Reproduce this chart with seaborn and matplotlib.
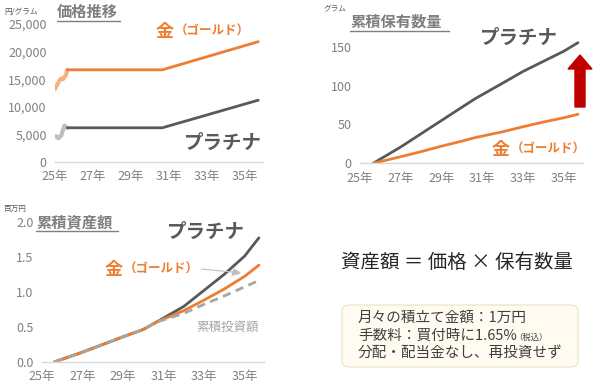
import matplotlib
matplotlib.use("Agg")
import matplotlib.pyplot as plt
import seaborn as sns
import pandas as pd
from matplotlib.patches import FancyBboxPatch, FancyArrow

sns.set_theme(style="white")
plt.rcParams['font.family'] = ['Noto Sans CJK JP', 'DejaVu Sans']

# ---- data (years as 20xx fraction, labels shown as "25年") ----
hist_x = [25.0, 25.08, 25.17, 25.25, 25.33, 25.42, 25.5, 25.58, 25.65]
gold_hist = [13200, 13800, 14300, 14900, 15100, 15000, 15400, 15800, 16700]
plat_hist = [4700, 4650, 4300, 4500, 4800, 5800, 6600, 6300, 6200]

proj_x = [25.65, 30.65, 35.7]
gold_proj = [16700, 16700, 21800]
plat_proj = [6200, 6200, 11200]

acc_x = [25.65, 27, 28, 29, 30, 30.65, 32, 33, 34, 35, 35.7]
plat_grams = [0, 21, 38, 55, 72, 83, 103, 118, 131, 144, 155]
gold_grams = [0, 8.5, 15, 22, 28.5, 33, 40.5, 47, 53, 58.5, 63]

val_x = [25.65, 27, 28, 29, 30, 30.65, 32, 33, 34, 35, 35.7]
plat_value = [0, 0.135, 0.245, 0.355, 0.46, 0.565, 0.79, 1.02, 1.25, 1.51, 1.77]
gold_value = [0, 0.135, 0.245, 0.355, 0.46, 0.565, 0.73, 0.88, 1.04, 1.22, 1.38]
invested = [0, 0.135, 0.245, 0.355, 0.46, 0.565, 0.69, 0.82, 0.94, 1.07, 1.16]

xticks = [25, 27, 29, 31, 33, 35]
xticklabels = ["25年", "27年", "29年", "31年", "33年", "35年"]

ORANGE = "#ED7D31"
ORANGE_L = "#F4B183"
GRAY_D = "#595959"
GRAY_L = "#BFBFBF"
TICK = "#808080"

W, H = 600, 390
fig = plt.figure(figsize=(6, 3.9), dpi=100)
fig.patch.set_facecolor("white")


def ax_px(left, right, bottom_px, top_px):
    # pixel coords with y measured from top
    return fig.add_axes([left / W, 1 - bottom_px / H, (right - left) / W, (bottom_px - top_px) / H])


def style(ax):
    for s in ["top", "right", "left"]:
        ax.spines[s].set_visible(False)
    ax.spines["bottom"].set_color("#D9D9D9")
    ax.spines["bottom"].set_linewidth(1)
    ax.tick_params(axis="both", length=0, labelsize=9, colors=TICK, pad=6)
    ax.set_xticks(xticks)
    ax.set_xticklabels(xticklabels)
    ax.set_xlim(25.0, 35.95)
    ax.set_xlabel("")
    ax.set_ylabel("")
    ax.grid(False)
    ax.set_facecolor("none")


def ftxt(x, y, s, **kw):
    fig.text(x / W, 1 - y / H, s, **kw)


# ---- top-left: price ----
ax1 = ax_px(55, 263, 162, 24)
sns.lineplot(x=hist_x, y=gold_hist, ax=ax1, color=ORANGE_L, lw=3)
sns.lineplot(x=hist_x, y=plat_hist, ax=ax1, color=GRAY_L, lw=3)
sns.lineplot(x=proj_x, y=gold_proj, ax=ax1, color=ORANGE, lw=2)
sns.lineplot(x=proj_x, y=plat_proj, ax=ax1, color=GRAY_D, lw=2)
style(ax1)
ax1.set_ylim(0, 25000)
ax1.set_yticks([0, 5000, 10000, 15000, 20000, 25000])
ax1.set_yticklabels(["0", "5,000", "10,000", "15,000", "20,000", "25,000"])

# ---- top-right: holdings ----
ax2 = ax_px(360, 583, 163.3, 29.5)
sns.lineplot(x=acc_x, y=plat_grams, ax=ax2, color=GRAY_D, lw=2)
sns.lineplot(x=acc_x, y=gold_grams, ax=ax2, color=ORANGE, lw=2)
style(ax2)
ax2.set_ylim(0, 172)
ax2.set_yticks([0, 50, 100, 150])

# ---- bottom-left: asset value ----
ax3 = ax_px(41.7, 264, 361.7, 221.7)
sns.lineplot(x=val_x, y=plat_value, ax=ax3, color=GRAY_D, lw=2)
sns.lineplot(x=val_x, y=gold_value, ax=ax3, color=ORANGE, lw=2)
sns.lineplot(x=val_x, y=invested, ax=ax3, color="#A6A6A6", lw=2, linestyle=(0, (3, 2)))
style(ax3)
ax3.set_ylim(0, 2.0)
ax3.set_yticks([0, 0.5, 1.0, 1.5, 2.0])
ax3.set_yticklabels(["0.0", "0.5", "1.0", "1.5", "2.0"])

# ---- texts ----
TITLE = "#7F7F7F"
ftxt(4, 12, "円/グラム", fontsize=5.5, color=GRAY_D, va="center")
ftxt(57, 12, "価格推移", fontsize=11, color=TITLE, fontweight="bold", va="center")
fig.add_artist(plt.Line2D([57 / W, 120 / W], [1 - 21 / H, 1 - 21 / H], color=TITLE, lw=1))

ftxt(156, 31, "金", fontsize=13, color=ORANGE, fontweight="bold", va="center")
ftxt(174.5, 31, "（ゴールド）", fontsize=9, color=ORANGE, fontweight="bold", va="center")
ftxt(184, 143, "プラチナ", fontsize=14, color=GRAY_D, fontweight="bold", va="center")

ftxt(324, 9, "グラム", fontsize=5.5, color=GRAY_D, va="center")
ftxt(350, 22, "累積保有数量", fontsize=11, color=TITLE, fontweight="bold", va="center")
fig.add_artist(plt.Line2D([350 / W, 449 / W], [1 - 31 / H, 1 - 31 / H], color=TITLE, lw=1))
ftxt(480, 38, "プラチナ", fontsize=14, color=GRAY_D, fontweight="bold", va="center")
ftxt(492, 149, "金", fontsize=13, color=ORANGE, fontweight="bold", va="center")
ftxt(510.5, 149, "（ゴールド）", fontsize=9, color=ORANGE, fontweight="bold", va="center")

# red arrow
arr = FancyArrow(580 / W, 1 - 107 / H, 0, 52 / H, width=10 / W, head_width=24 / W,
                 head_length=14 / H, length_includes_head=True, color="#C00000",
                 transform=fig.transFigure)
fig.add_artist(arr)

ftxt(4, 209, "百万円", fontsize=5.5, color=GRAY_D, va="center")
ftxt(36, 222, "累積資産額", fontsize=11, color=TITLE, fontweight="bold", va="center")
fig.add_artist(plt.Line2D([36 / W, 118 / W], [1 - 231 / H, 1 - 231 / H], color=TITLE, lw=1))
ftxt(167, 232, "プラチナ", fontsize=14, color=GRAY_D, fontweight="bold", va="center")
ftxt(105, 269, "金", fontsize=13, color=ORANGE, fontweight="bold", va="center")
ftxt(123.5, 269, "（ゴールド）", fontsize=9, color=ORANGE, fontweight="bold", va="center")
fig.add_artist(plt.Line2D([201 / W, 232 / W], [1 - 269 / H, 1 - 272 / H], color="#BFBFBF", lw=0.8))
fig.add_artist(FancyArrow(232 / W, 1 - 272 / H, 8 / W, -1 / H, width=0.0005, head_width=6 / H,
                          head_length=7 / W, length_includes_head=True, color="#BFBFBF",
                          transform=fig.transFigure))
ftxt(196, 327, "累積投資額", fontsize=9, color="#A6A6A6", va="center")

ftxt(457, 262, "資産額 ＝ 価格 × 保有数量", fontsize=14, color="#262626", va="center", ha="center")

box = FancyBboxPatch((342 / W, 1 - 367 / H), 236 / W, 62 / H,
                     boxstyle="round,pad=0,rounding_size=0.015",
                     facecolor="#FFFBF0", edgecolor="#F2E6CC", lw=1,
                     transform=fig.transFigure)
fig.add_artist(box)
ftxt(358, 318, "月々の積立て金額：1万円", fontsize=10.5, color="#404040", va="center")
ftxt(358, 336, "手数料：買付時に1.65%", fontsize=10.5, color="#404040", va="center")
ftxt(514, 337, "（税込）", fontsize=6, color="#404040", va="center")
ftxt(358, 353, "分配・配当金なし、再投資せず", fontsize=10.5, color="#404040", va="center")

fig.savefig("out.png", dpi=100, facecolor="white")
